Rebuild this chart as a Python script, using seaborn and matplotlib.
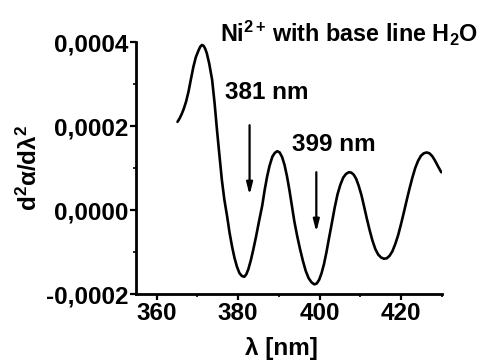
import numpy as np
import pandas as pd
import matplotlib
matplotlib.use("Agg")
import matplotlib.pyplot as plt
from matplotlib.ticker import FuncFormatter, MultipleLocator
import seaborn as sns

# second derivative spectrum
wavelength = [365.1, 365.6, 366.1, 366.6, 367.2, 367.8, 368.4, 369.0, 369.6, 370.3,
              370.7, 371.1, 371.5, 371.9, 372.3, 372.9, 373.6, 374.2, 374.8, 375.4,
              376.0, 376.6, 377.3, 377.9, 378.5, 379.1, 379.7, 380.3, 380.9, 381.5,
              382.0, 382.5, 383.1, 383.7, 384.4, 385.1, 385.9, 386.5, 387.1, 387.7,
              388.4, 389.0, 389.6, 390.2, 390.8, 391.4, 392.0, 392.6, 393.2, 393.8,
              394.5, 395.2, 395.9, 396.6, 397.3, 398.0, 398.7, 399.3, 399.9, 400.5,
              401.1, 401.7, 402.3, 403.0, 403.7, 404.4, 405.1, 405.8, 406.5, 407.2,
              407.8, 408.4, 409.0, 409.6, 410.3, 410.9, 411.6, 412.3, 413.0, 413.7,
              414.4, 415.1, 415.8, 416.5, 417.2, 417.9, 418.6, 419.3, 420.0, 420.7,
              421.4, 422.1, 422.8, 423.5, 424.2, 424.9, 425.6, 426.3, 427.0, 427.7,
              428.4, 429.1, 429.9]
d2 = [0.000210, 0.000218, 0.000228, 0.000240, 0.000258, 0.000282, 0.000312, 0.000341, 0.000364, 0.000381,
      0.000389, 0.000393, 0.000391, 0.000384, 0.000373, 0.000348, 0.000310, 0.000255, 0.000190, 0.000130,
      0.000071, 0.000025, -0.000016, -0.000055, -0.000087, -0.000114, -0.000135, -0.000150, -0.000157, -0.000159,
      -0.000153, -0.000141, -0.000120, -0.000095, -0.000063, -0.000028, 0.000010, 0.000047, 0.000079, 0.000105,
      0.000127, 0.000136, 0.000140, 0.000137, 0.000126, 0.000107, 0.000080, 0.000047, 0.000010, -0.000027,
      -0.000062, -0.000093, -0.000121, -0.000145, -0.000162, -0.000172, -0.000177, -0.000175, -0.000166, -0.000150,
      -0.000128, -0.000100, -0.000068, -0.000032, 0.000005, 0.000037, 0.000060, 0.000077, 0.000086, 0.000090,
      0.000089, 0.000084, 0.000074, 0.000058, 0.000035, 0.000010, -0.000020, -0.000048, -0.000073, -0.000093,
      -0.000106, -0.000113, -0.000116, -0.000115, -0.000109, -0.000098, -0.000081, -0.000060, -0.000034, -0.000006,
      0.000023, 0.000051, 0.000077, 0.000100, 0.000117, 0.000129, 0.000135, 0.000137, 0.000135, 0.000128,
      0.000117, 0.000104, 0.000090]

peak_labels = ["381 nm", "399 nm"]
peak_arrow_x = [382.8, 399.2]
peak_arrow_top = [0.000202, 0.000090]
peak_arrow_tip = [0.000036, -0.000052]
peak_text_xy = [(376.8, 0.000279), (393.3, 0.000157)]

df = pd.DataFrame({"lambda": wavelength, "d2": d2})

sns.set_style("ticks")
plt.rcParams["font.family"] = ["Liberation Sans", "DejaVu Sans"]
plt.rcParams["font.weight"] = "bold"
plt.rcParams["mathtext.fontset"] = "custom"
plt.rcParams["mathtext.default"] = "bf"
plt.rcParams["mathtext.rm"] = "Liberation Sans:bold"
plt.rcParams["mathtext.bf"] = "Liberation Sans:bold"
plt.rcParams["mathtext.it"] = "Liberation Sans:bold"
for key in ["text.color", "axes.labelcolor", "xtick.color", "ytick.color", "axes.edgecolor"]:
    plt.rcParams[key] = "black"

FS = 17.5

fig = plt.figure(figsize=(4.78, 3.6), dpi=100)
ax = fig.add_axes([0.2854, 0.1833, 0.6386, 0.7])

sns.lineplot(data=df, x="lambda", y="d2", sort=False, estimator=None,
             color="black", linewidth=1.9, ax=ax)

ax.set_xlim(355, 430)
ax.set_ylim(-0.0002, 0.0004)
ax.xaxis.set_major_locator(MultipleLocator(20))
ax.xaxis.set_minor_locator(MultipleLocator(10))
ax.yaxis.set_major_locator(MultipleLocator(0.0002))
ax.yaxis.set_minor_locator(MultipleLocator(0.0001))
ax.yaxis.set_major_formatter(FuncFormatter(lambda v, p: f"{v:.4f}".replace(".", ",").replace("-0,0000", "0,0000")))

sns.despine(ax=ax)
for s in ["left", "bottom"]:
    ax.spines[s].set_linewidth(2.0)
ax.tick_params(which="major", direction="out", length=4, width=1.6, labelsize=FS, pad=2)
ax.tick_params(which="minor", direction="out", length=2.5, width=1.2)
for lab in ax.get_xticklabels() + ax.get_yticklabels():
    lab.set_fontweight("bold")

ax.set_xlabel("λ [nm]", fontsize=FS, fontweight="bold", labelpad=0)
ax.xaxis.set_label_coords(0.475, -0.17)
ax.set_ylabel(r"d$^2$α/dλ$^2$", fontsize=FS, fontweight="bold")
ax.yaxis.set_label_coords(-0.31, 0.5)

for lab, x, top, tip, (tx, ty) in zip(peak_labels, peak_arrow_x, peak_arrow_top, peak_arrow_tip, peak_text_xy):
    ax.annotate("", xy=(x, tip), xytext=(x, top),
                arrowprops=dict(arrowstyle="-|>,head_width=0.18,head_length=0.7",
                                lw=1.6, color="black", shrinkA=0, shrinkB=0))
    ax.text(tx, ty, lab, fontsize=FS, fontweight="bold", va="center", ha="left")

fig.text(220 / 478, 1 - 41.7 / 360, r"Ni$^{2+}\,$with base line H$_2$O",
         fontsize=16.8, fontweight="bold", va="baseline", ha="left")

fig.savefig("out.png", dpi=100, facecolor="white")
